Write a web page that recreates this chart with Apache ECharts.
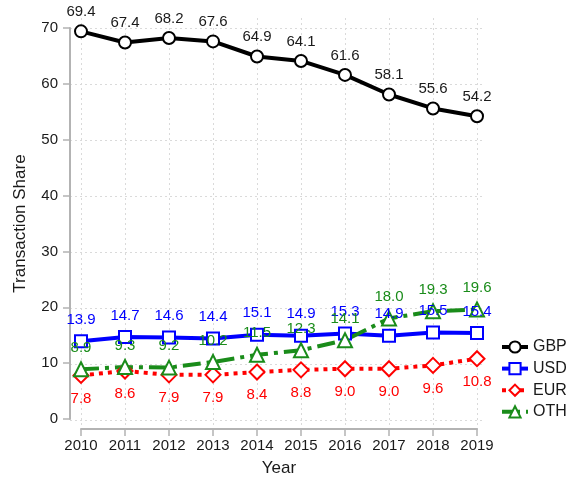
<!DOCTYPE html>
<html>
<head>
<meta charset="utf-8">
<script src="https://cdn.jsdelivr.net/npm/echarts@6/dist/echarts.min.js"></script>
<style>
  html, body { margin: 0; padding: 0; background: #fff; }
  #main { width: 572px; height: 482px; }
</style>
</head>
<body>
<div id="main"></div>
<script>
var years = [2010, 2011, 2012, 2013, 2014, 2015, 2016, 2017, 2018, 2019];
var gbp = [69.4, 67.4, 68.2, 67.6, 64.9, 64.1, 61.6, 58.1, 55.6, 54.2];
var usd = [13.9, 14.7, 14.6, 14.4, 15.1, 14.9, 15.3, 14.9, 15.5, 15.4];
var eur = [7.8, 8.6, 7.9, 7.9, 8.4, 8.8, 9.0, 9.0, 9.6, 10.8];
var oth = [8.9, 9.3, 9.2, 10.2, 11.5, 12.3, 14.1, 18.0, 19.3, 19.6];
var yTicks = [0, 10, 20, 30, 40, 50, 60, 70];

var fontFamily = 'Liberation Sans, Arial, sans-serif';

function pairs(vals) {
    return years.map(function (y, i) { return [y, vals[i]]; });
}

function makeSeries(name, vals, color, symbol, size, dash, labelPos, labelDist) {
    return {
        name: name,
        type: 'line',
        xAxisIndex: 0,
        yAxisIndex: 0,
        data: pairs(vals),
        symbol: symbol,
        symbolSize: size,
        showAllSymbol: true,
        animation: false,
        lineStyle: { color: color, width: 4, type: dash, cap: 'butt' },
        itemStyle: { color: color, borderColor: color, borderWidth: 1.6 },
        label: {
            show: true,
            position: labelPos,
            distance: labelDist,
            color: color === '#000000' ? '#1a1a1a' : color,
            fontSize: 15,
            fontFamily: fontFamily,
            formatter: function (p) { return p.value[1].toFixed(1); }
        },
        emphasis: { disabled: true }
    };
}

var chartDom = document.getElementById('main');
var myChart = echarts.init(chartDom);
var option;

option = {
    backgroundColor: '#ffffff',
    textStyle: { fontFamily: fontFamily },
    legend: {
        orient: 'vertical',
        left: 500,
        top: 339,
        padding: 0,
        itemWidth: 26,
        itemHeight: 14,
        itemGap: 5.6,
        lineStyle: { width: 4 },
        textStyle: { fontSize: 16, color: '#1a1a1a', fontFamily: fontFamily },
        data: ['GBP', 'USD', 'EUR', 'OTH']
    },
    grid: [
        { left: 81, right: 95, top: 28, bottom: 62 },
        { left: 70, right: 87, top: 18, bottom: 52 }
    ],
    xAxis: [
        {
            type: 'value',
            gridIndex: 0,
            min: 2010,
            max: 2019,
            interval: 1,
            offset: 10,
            name: 'Year',
            nameLocation: 'middle',
            nameGap: 31,
            nameTextStyle: { fontSize: 17, color: '#1a1a1a', fontFamily: fontFamily },
            axisLine: { show: true, onZero: false, lineStyle: { color: '#b3b3b3', width: 2 } },
            axisTick: { show: true, length: 7, lineStyle: { color: '#b3b3b3', width: 1.5 } },
            axisLabel: {
                fontSize: 15, color: '#1a1a1a', margin: 9, fontFamily: fontFamily,
                formatter: function (v) { return String(v); }
            },
            splitLine: { show: false }
        },
        {
            type: 'value',
            gridIndex: 1,
            min: 2009.75,
            max: 2019.18,
            axisLine: { show: false },
            axisTick: { show: false, customValues: years },
            axisLabel: { show: false, customValues: years },
            splitLine: { show: true, lineStyle: { color: '#dadada', width: 1, type: [2, 3] } }
        }
    ],
    yAxis: [
        {
            type: 'value',
            gridIndex: 0,
            min: 0,
            max: 70,
            interval: 10,
            offset: 11,
            name: 'Transaction Share',
            nameLocation: 'middle',
            nameGap: 41,
            nameTextStyle: { fontSize: 17, color: '#1a1a1a', fontFamily: fontFamily },
            axisLine: { show: true, onZero: false, lineStyle: { color: '#b3b3b3', width: 2 } },
            axisTick: { show: true, length: 7, lineStyle: { color: '#b3b3b3', width: 1.5 } },
            axisLabel: { fontSize: 15, color: '#1a1a1a', margin: 12, fontFamily: fontFamily },
            splitLine: { show: false }
        },
        {
            type: 'value',
            gridIndex: 1,
            min: -1.786,
            max: 71.786,
            axisLine: { show: false },
            axisTick: { show: false, customValues: yTicks },
            axisLabel: { show: false, customValues: yTicks },
            splitLine: { show: true, lineStyle: { color: '#dadada', width: 1, type: [2, 3] } }
        }
    ],
    series: [
        makeSeries('GBP', gbp, '#000000', 'emptyCircle', 12, 'solid', 'top', 5),
        makeSeries('USD', usd, '#0000ff', 'emptyRect', 12, 'solid', 'top', 7),
        makeSeries('EUR', eur, '#ff0000', 'emptyDiamond', 15, [4, 5], 'bottom', 7),
        makeSeries('OTH', oth, '#1a8c1a', 'emptyTriangle', 14, [18, 6, 4, 6], 'top', 6)
    ]
};

option && myChart.setOption(option);
</script>
</body>
</html>
